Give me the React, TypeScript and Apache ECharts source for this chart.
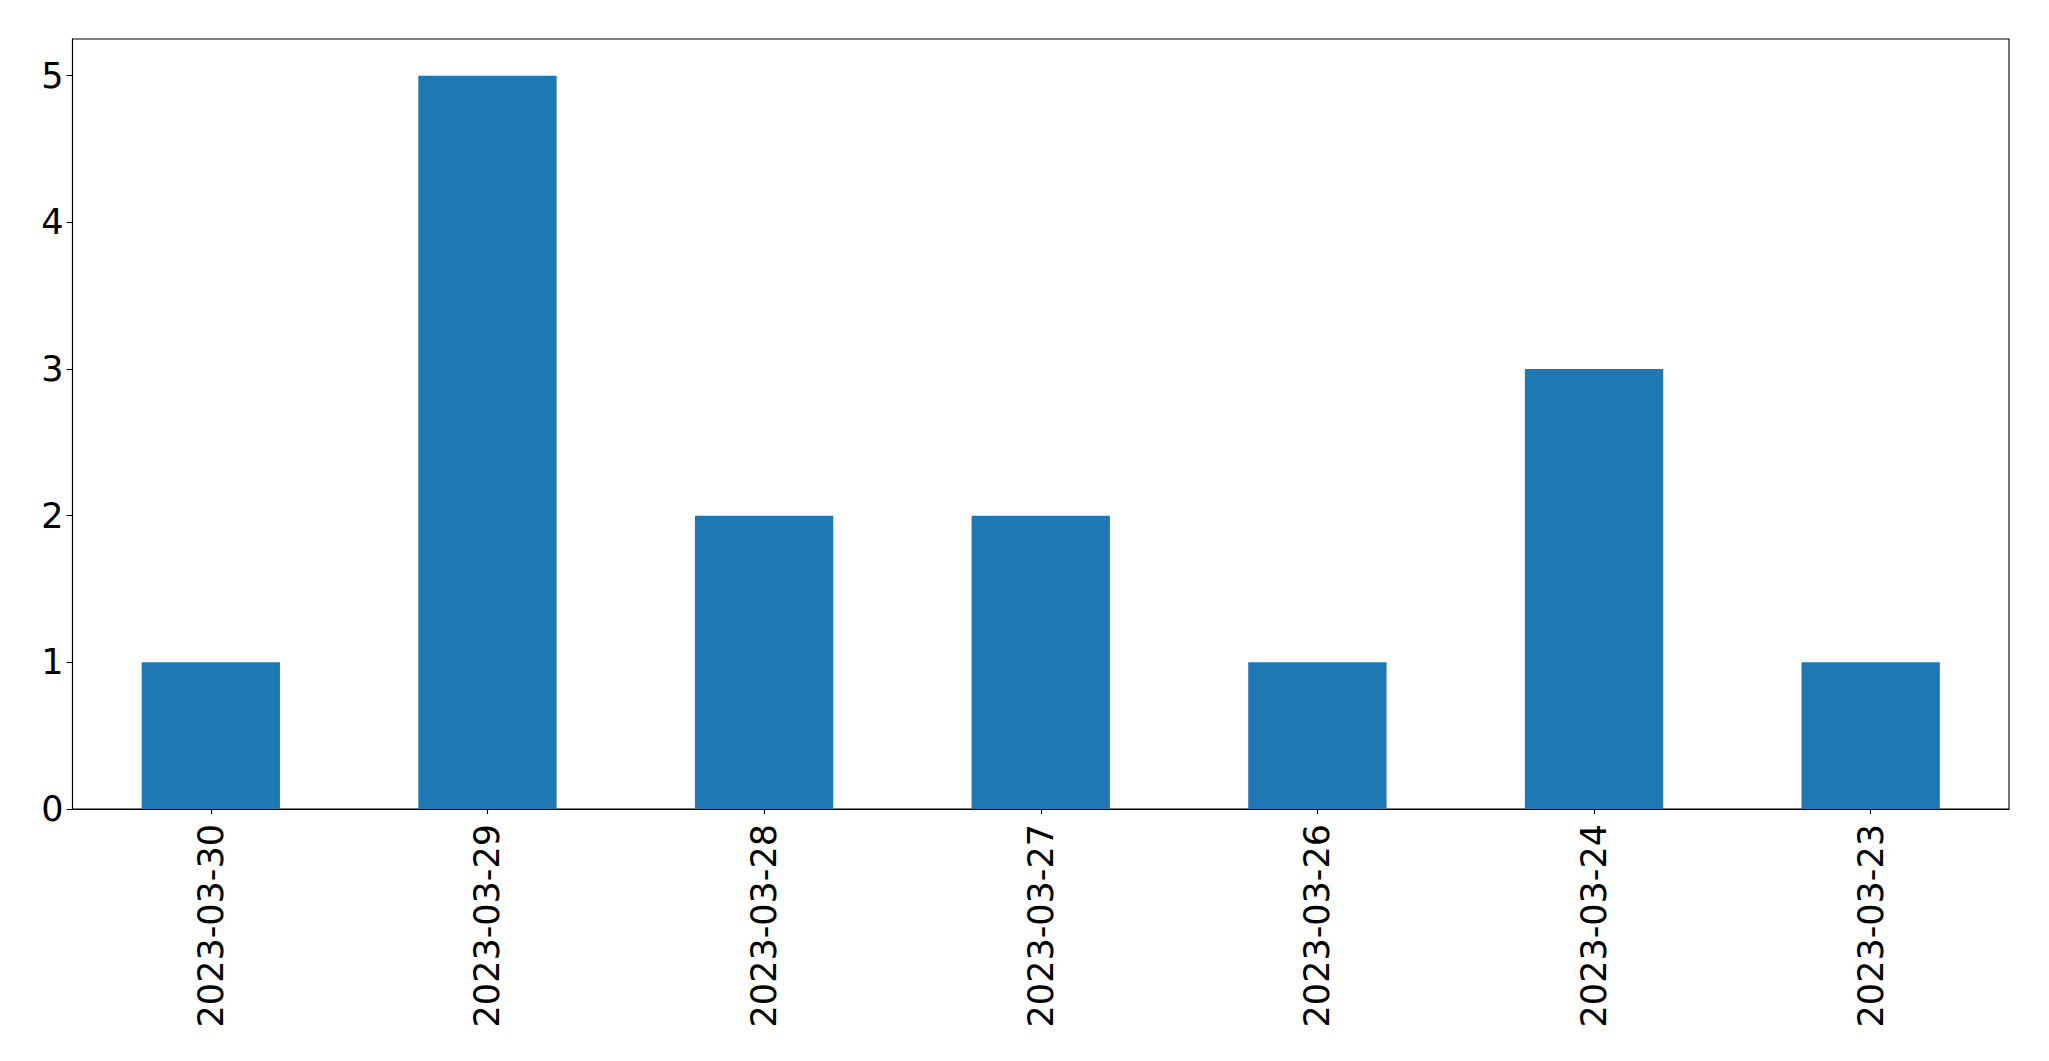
import React, { useEffect, useRef } from "react";
import * as echarts from "echarts";

const categories = ["2023-03-30", "2023-03-29", "2023-03-28", "2023-03-27", "2023-03-26", "2023-03-24", "2023-03-23"];
const values = [1, 5, 2, 2, 1, 3, 1];
const yTicks = [0, 1, 2, 3, 4, 5];

export default function App() {
  const ref = useRef<HTMLDivElement>(null);
  useEffect(() => {
    document.body.style.margin = "0";
    const chart = echarts.init(ref.current!, null, { renderer: "svg" });
    chart.setOption({
      animation: false,
      backgroundColor: "#ffffff",
      grid: {
        left: 72.5,
        top: 39,
        width: 1936.5,
        height: 770,
        show: true,
        borderColor: "#000000",
        borderWidth: 1.1,
        containLabel: false,
      },
      xAxis: {
        type: "category",
        data: categories,
        boundaryGap: true,
        axisLine: { show: true, lineStyle: { color: "#000", width: 1.1 } },
        axisTick: { show: true, alignWithLabel: true, length: 5, lineStyle: { color: "#000", width: 1.1 } },
        axisLabel: {
          rotate: 90,
          margin: 15,
          color: "#000",
          fontFamily: "DejaVu Sans",
          fontSize: 35,
          interval: 0,
        },
        splitLine: { show: false },
      },
      yAxis: {
        type: "value",
        min: 0,
        max: 5.25,
        interval: 1,
        axisLine: { show: true, lineStyle: { color: "#000", width: 1.1 } },
        axisTick: { show: true, length: 6, lineStyle: { color: "#000", width: 1.1 }, customValues: yTicks },
        axisLabel: {
          margin: 9,
          color: "#000",
          fontFamily: "DejaVu Sans",
          fontSize: 35,
          customValues: yTicks,
        },
        splitLine: { show: false },
      },
      series: [
        {
          type: "bar",
          data: values,
          barWidth: "50%",
          itemStyle: { color: "#1f77b4" },
        },
      ],
    });
    return () => chart.dispose();
  }, []);
  return <div ref={ref} style={{ width: 2049, height: 1061 }} />;
}
